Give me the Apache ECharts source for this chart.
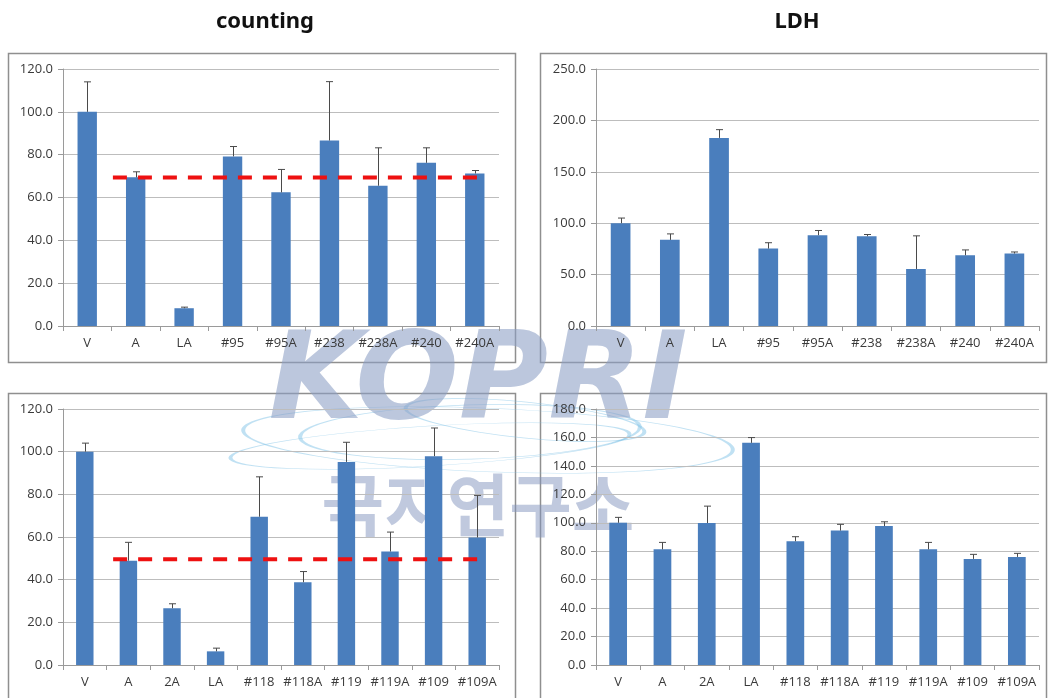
<!DOCTYPE html>
<html>
<head>
<meta charset="utf-8">
<script src="https://cdn.jsdelivr.net/npm/echarts@6/dist/echarts.min.js"></script>
<style>
  html, body { margin: 0; padding: 0; background: #ffffff; }
  #chart { width: 1048px; height: 698px; }
</style>
</head>
<body>
<div id="chart"></div>
<script>
// ---- data ----
const catsTop = ['V', 'A', 'LA', '#95', '#95A', '#238', '#238A', '#240', '#240A'];
const countTop = [100, 69.4, 8.3, 79.2, 62.4, 86.6, 65.5, 76.2, 71.2];
const countTopSd = [14.0, 2.6, 0.5, 4.6, 10.7, 27.5, 17.7, 7.0, 1.4];
const ldhTop = [100, 83.8, 183.0, 75.3, 88.3, 87.3, 55.5, 68.8, 70.5];
const ldhTopSd = [5.0, 5.8, 8.0, 5.7, 4.6, 1.7, 32.2, 5.2, 1.5];

const catsBottom = ['V', 'A', '2A', 'LA', '#118', '#118A', '#119', '#119A', '#109', '#109A'];
const countBottom = [100, 48.9, 26.6, 6.4, 69.5, 38.8, 95.2, 53.2, 97.9, 59.8];
const countBottomSd = [4.0, 8.6, 2.1, 1.5, 18.7, 5.0, 9.2, 9.1, 13.2, 19.7];
const ldhBottom = [100, 81.3, 99.8, 156.2, 87.0, 94.5, 97.7, 81.3, 74.6, 76.0];
const ldhBottomSd = [3.8, 4.9, 11.9, 3.7, 3.2, 4.4, 3.0, 4.9, 3.2, 2.5];

// reference level (value of "A") and its horizontal span in category units
const refTop = 69.3, refTopSpan = [1.03, 8.66];
const refBottom = 49.6, refBottomSpan = [1.15, 9.61];

// y-axis ranges: [min, max, interval]
const yTopCount = [0, 120, 20];
const yTopLdh = [0, 250, 50];
const yBottomCount = [0, 120, 20];
const yBottomLdh = [0, 180, 20];

// ---- layout ----
const panels = [
  { cats: catsTop, vals: countTop, sd: countTopSd, y: yTopCount, ref: refTop, span: refTopSpan,
    grid: { left: 63, top: 69, width: 436, height: 257 }, box: [8, 53, 507, 309] },
  { cats: catsTop, vals: ldhTop, sd: ldhTopSd, y: yTopLdh,
    grid: { left: 596, top: 69, width: 443, height: 257 }, box: [540, 53, 506, 309] },
  { cats: catsBottom, vals: countBottom, sd: countBottomSd, y: yBottomCount, ref: refBottom, span: refBottomSpan,
    grid: { left: 63, top: 409, width: 436, height: 256 }, box: [8, 393, 507, 320] },
  { cats: catsBottom, vals: ldhBottom, sd: ldhBottomSd, y: yBottomLdh,
    grid: { left: 596, top: 409, width: 443, height: 256 }, box: [540, 393, 506, 320] }
];

const BAR = '#4a7ebd';
const AXIS = '#9a9a9a';
const GRIDLINE = '#bdbdbd';
const LABEL = '#3a3a3a';
const FONT = '"Open Sans", "Noto Sans", sans-serif';

const grids = [], xAxes = [], yAxes = [], series = [], graphics = [];

panels.forEach((p, i) => {
  grids.push(Object.assign({ containLabel: false }, p.grid));
  // category axis
  xAxes.push({
    type: 'category', gridIndex: i, data: p.cats,
    axisLine: { lineStyle: { color: AXIS, width: 1 } },
    axisTick: { show: true, alignWithLabel: false, length: 5, lineStyle: { color: AXIS } },
    axisLabel: { color: LABEL, fontSize: 13, fontFamily: FONT, margin: 11, interval: 0 }
  });
  const catAxisIdx = xAxes.length - 1;
  yAxes.push({
    type: 'value', gridIndex: i, min: p.y[0], max: p.y[1], interval: p.y[2],
    axisLine: { show: true, lineStyle: { color: AXIS, width: 1 } },
    axisTick: { show: true, length: 5, lineStyle: { color: AXIS } },
    splitLine: { lineStyle: { color: GRIDLINE, width: 1 } },
    axisLabel: { color: LABEL, fontSize: 13, fontFamily: FONT, margin: 10,
                 formatter: v => v.toFixed(1) }
  });
  const yIdx = yAxes.length - 1;

  series.push({
    type: 'bar', xAxisIndex: catAxisIdx, yAxisIndex: yIdx,
    data: p.vals, barWidth: '40%', itemStyle: { color: BAR }, silent: true, z: 2
  });

  // upper error bars
  series.push({
    type: 'custom', xAxisIndex: catAxisIdx, yAxisIndex: yIdx, z: 3, silent: true,
    data: p.vals.map((v, k) => [k, v, v + p.sd[k]]),
    renderItem: (params, api) => {
      const base = api.coord([api.value(0), api.value(1)]);
      const top = api.coord([api.value(0), api.value(2)]);
      const x = Math.round(base[0]) + 0.5;
      const st = { stroke: '#4a4a4a', lineWidth: 1 };
      return { type: 'group', children: [
        { type: 'line', shape: { x1: x, y1: base[1], x2: x, y2: top[1] }, style: st },
        { type: 'line', shape: { x1: x - 3.5, y1: top[1], x2: x + 3.5, y2: top[1] }, style: st }
      ]};
    }
  });

  // dashed reference level on a hidden numeric x axis spanning the categories
  if (p.ref !== undefined) {
    xAxes.push({ type: 'value', gridIndex: i, min: 0, max: p.cats.length, show: false });
    series.push({
      type: 'line', xAxisIndex: xAxes.length - 1, yAxisIndex: yIdx, z: 4, silent: true,
      symbol: 'none',
      data: [[p.span[0], p.ref], [p.span[1], p.ref]],
      lineStyle: { color: '#ee1111', width: 4, type: [14, 11] }
    });
  }

  graphics.push({
    type: 'rect', shape: { x: p.box[0] + 0.5, y: p.box[1] + 0.5, width: p.box[2], height: p.box[3] },
    style: { fill: 'none', stroke: '#8f8f8f', lineWidth: 1.5 }, z: -1
  });
});

// panel headings
graphics.push(
  { type: 'text', x: 265, y: 22, style: { text: 'counting', font: 'bold 22px "Noto Sans", sans-serif',
    fill: '#111', align: 'center', verticalAlign: 'middle' } },
  { type: 'text', x: 797, y: 22, style: { text: 'LDH', font: 'bold 22px "Noto Sans", sans-serif',
    fill: '#111', align: 'center', verticalAlign: 'middle' } }
);

// institute watermark
const wm = [];
[[488, 440, 245, 0.13, -0.04], [470, 432, 170, 0.16, 0.03], [525, 420, 120, 0.15, -0.1], [430, 446, 200, 0.10, 0.06]]
  .forEach(e => wm.push({
    type: 'circle', shape: { cx: 0, cy: 0, r: e[2] }, x: e[0], y: e[1], scaleY: e[3], rotation: e[4],
    style: { fill: 'none', stroke: 'rgba(130,195,232,0.5)', lineWidth: 4 }
  }));
wm.push(
  { type: 'text', x: 478, y: 386, style: { text: 'KOPRI', font: 'italic bold 122px "DejaVu Sans", sans-serif',
    fill: 'rgba(140,158,196,0.58)', align: 'center', verticalAlign: 'middle' } },
  { type: 'text', x: 478, y: 505, style: { text: '극지연구소', font: 'bold 68px "Noto Sans CJK KR", sans-serif',
    fill: 'rgba(130,148,190,0.5)', align: 'center', verticalAlign: 'middle' } }
);
graphics.push({ type: 'group', z: 100, silent: true, children: wm });

const chart = echarts.init(document.getElementById('chart'), null, { renderer: 'canvas' });
chart.setOption({
  animation: false,
  backgroundColor: '#ffffff',
  grid: grids,
  xAxis: xAxes,
  yAxis: yAxes,
  series: series,
  graphic: graphics
});
</script>
</body>
</html>
